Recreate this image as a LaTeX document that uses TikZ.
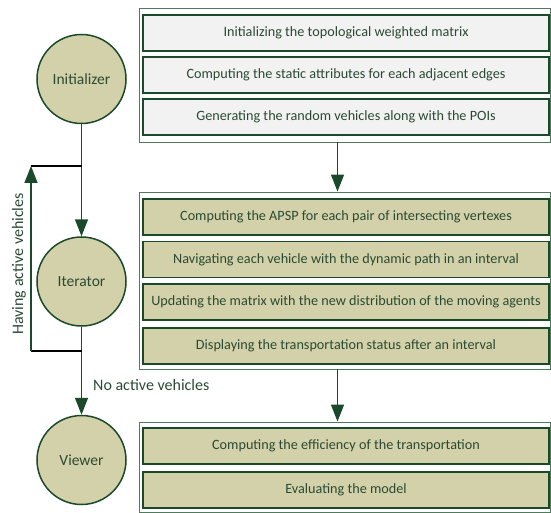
\documentclass[tikz,border=0pt]{standalone}
\usepackage{fontspec}
\setmainfont{Carlito}
\usetikzlibrary{arrows.meta}
\definecolor{dkgreen}{HTML}{1B4A2A}
\definecolor{txtgreen}{HTML}{2B4A33}
\definecolor{khaki}{HTML}{D3D1A9}
\definecolor{lightgray}{HTML}{F2F2F2}
\definecolor{outergreen}{HTML}{4F7A5C}
\tikzset{
  stage/.style={circle, draw=dkgreen, line width=1.5pt, fill=khaki, minimum size=89pt, inner sep=0pt, text=txtgreen, font=\fontsize{15.5}{17}\selectfont},
  taskbox/.style={rectangle, draw=dkgreen, line width=1.8pt, fill=khaki, minimum width=406pt, minimum height=36pt, inner sep=0pt, text=txtgreen, font=\fontsize{14.2}{16}\selectfont},
  graybox/.style={taskbox, fill=lightgray},
  outerbox/.style={rectangle, draw=outergreen, line width=0.9pt, fill=white, inner sep=0pt},
  conn/.style={draw=dkgreen, line width=1.5pt, -{Triangle[length=17pt,width=13pt]}},
  blackline/.style={draw=black, line width=1.3pt},
  lbl/.style={text=txtgreen, font=\fontsize{16}{18}\selectfont, inner sep=0pt}
}
\begin{document}
\begin{tikzpicture}[x=1pt,y=-1pt]
\useasboundingbox (0,0) rectangle (551,513);
% outer groups
\node[outerbox, minimum width=411.5pt, minimum height=134pt] (g1) at (344.75,75) {};
\node[outerbox, minimum width=411.5pt, minimum height=177pt] (g2) at (344.75,280.5) {};
\node[outerbox, minimum width=411.5pt, minimum height=90.5pt] (g3) at (344.75,467.25) {};
% group 1
\node[graybox] (b11) at (346,33) {Initializing the topological weighted matrix};
\node[graybox] (b12) at (346,75) {Computing the static attributes for each adjacent edges};
\node[graybox] (b13) at (346,117) {Generating the random vehicles along with the POIs};
% group 2
\node[taskbox] (b21) at (346,217) {Computing the APSP for each pair of intersecting vertexes};
\node[taskbox] (b22) at (346,259.5) {Navigating each vehicle with the dynamic path in an interval};
\node[taskbox] (b23) at (346,302) {Updating the matrix with the new distribution of the moving agents};
\node[taskbox] (b24) at (346,346) {Displaying the transportation status after an interval};
% group 3
\node[taskbox] (b31) at (346,446) {Computing the efficiency of the transportation};
\node[taskbox] (b32) at (346,490) {Evaluating the model};
% stages
\node[stage] (init) at (81.5,79) {Initializer};
\node[stage] (iter) at (81.5,281.5) {Iterator};
\node[stage] (view) at (81.5,460) {Viewer};
% coordinates
\coordinate (ax) at (337.5,0);
\coordinate (lx) at (31,0);
\coordinate (jt) at (81.5,166);
\coordinate (jb) at (81.5,351);
% connectors between groups
\draw[conn] (g1.south -| ax) -- (g2.north -| ax);
\draw[conn] (g2.south -| ax) -- (g3.north -| ax);
% stage flow
\draw[conn] (init.south) -- (iter.north);
\draw[conn] (iter.south) -- (view.north);
% loop
\draw[blackline] (jb) -- (jb -| lx);
\draw[conn] (jb -| lx) -- (jt -| lx);
\draw[blackline] (jt -| lx) -- (jt);
% labels
\node[lbl, rotate=90] (having) at (19,264) {Having active vehicles};
\node[lbl, anchor=west] (noact) at (93,385) {No active vehicles};
\end{tikzpicture}
\end{document}
